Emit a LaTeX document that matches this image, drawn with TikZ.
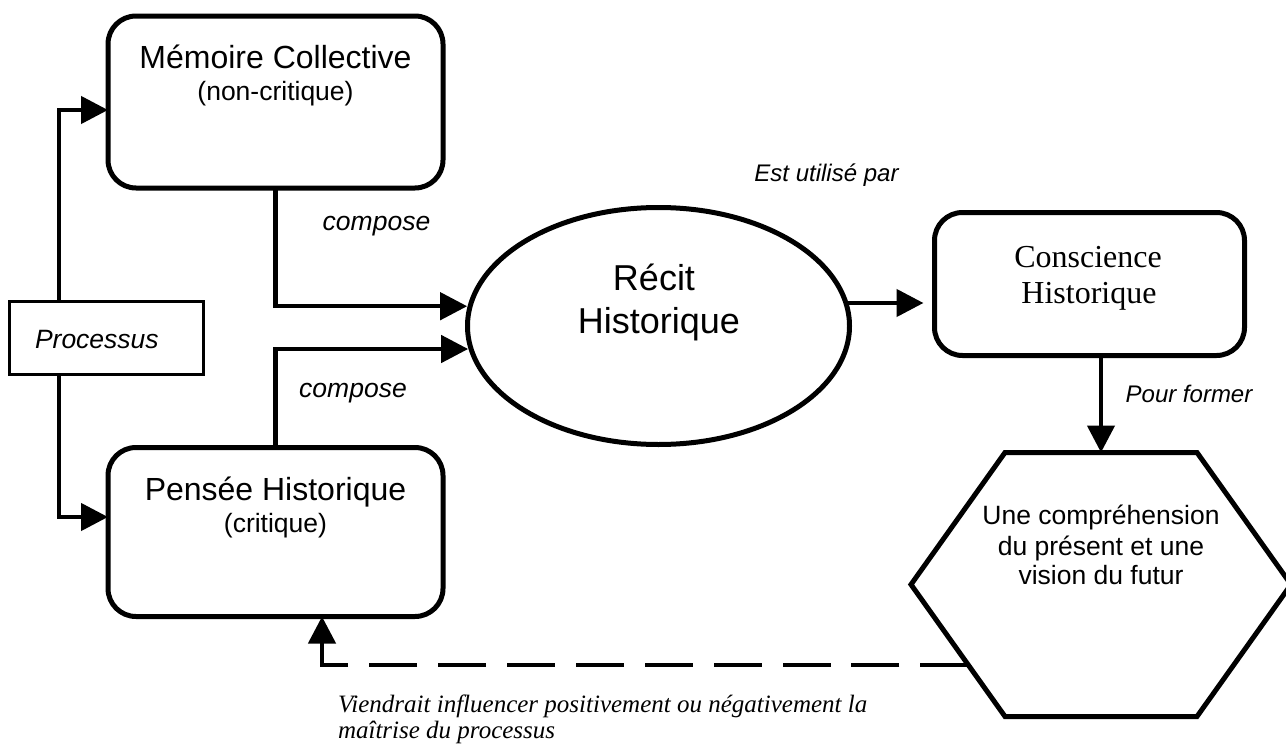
\documentclass[tikz,border=0pt]{standalone}
\usepackage{fontspec}
\setmainfont{Liberation Sans}
\newfontfamily\timesfont{Liberation Serif}
\usetikzlibrary{arrows.meta,calc,shapes.geometric}
\begin{document}
\begin{tikzpicture}[x=1pt,y=-1pt,
  boxr/.style={draw, line width=5pt, rounded corners=28pt, minimum width=335pt,
    minimum height=172pt, inner sep=0pt, outer sep=0pt},
  conn/.style={line width=4.5pt, -{Triangle[length=27pt,width=27pt]}},
  lbl/.style={anchor=base, inner sep=0pt, outer sep=0pt},
  big/.style={font=\fontsize{32}{38}\selectfont},
  mid/.style={font=\fontsize{26.5}{32}\selectfont},
  midit/.style={font=\itshape\fontsize{26.5}{32}\selectfont},
  smit/.style={font=\itshape\fontsize{24}{29}\selectfont},
]
\useasboundingbox (0,0) rectangle (1286,744);

% shapes
\node[boxr] (mem) at (275.5,102) {};
\node[boxr, minimum height=169pt] (pen) at (275.5,532) {};
\node[draw, line width=3.5pt, minimum width=194pt, minimum height=73pt,
  inner sep=0pt, outer sep=0pt] (proc) at (106.5,338) {};
\node[ellipse, draw, line width=5pt, minimum width=382pt, minimum height=237pt,
  inner sep=0pt, outer sep=0pt] (rec) at (658.5,326) {};
\node[boxr, minimum width=310pt, minimum height=143pt] (con) at (1089.5,284) {};
\node[minimum width=380pt, minimum height=264pt, inner sep=0pt, outer sep=0pt]
  (hex) at (1101,584.5) {};
\draw[line width=5pt, line join=miter]
  ([xshift=-96pt]hex.north) -- ([xshift=96pt]hex.north) -- (hex.east)
  -- ([xshift=96pt]hex.south) -- ([xshift=-96pt]hex.south) -- (hex.west) -- cycle;
\coordinate (hexd) at ($(hex.west)!0.61!([xshift=-96pt]hex.south)$);

% texts
\node[lbl, big] (memA) at (275.5,68) {Mémoire Collective};
\node[lbl, mid] (memB) at (275.5,100) {(non-critique)};
\node[lbl, big] (penA) at (275.5,500) {Pensée Historique};
\node[lbl, mid] (penB) at (275.5,532) {(critique)};
\node[lbl, midit, anchor=base west] (procT) at (35,348) {Processus};
\node[lbl, font=\fontsize{36}{42}\selectfont] (recA) at (654,290) {Récit};
\node[lbl, font=\fontsize{36}{42}\selectfont] (recB) at (659,333) {Historique};
\node[lbl, font=\timesfont\fontsize{32}{38}\selectfont] (conA) at (1088,267) {Conscience};
\node[lbl, font=\timesfont\fontsize{32}{38}\selectfont] (conB) at (1089,303) {Historique};
\node[lbl, mid] (hexA) at (1101,524) {Une compréhension};
\node[lbl, mid] (hexB) at (1101,555) {du présent et une};
\node[lbl, mid] (hexC) at (1101,584) {vision du futur};
\node[lbl, midit] (cmp1) at (376.5,230) {compose};
\node[lbl, midit] (cmp2) at (353,397) {compose};
\node[lbl, smit] (util) at (826.5,181) {Est utilisé par};
\node[lbl, smit] (form) at (1189,402) {Pour former};
\node[lbl, anchor=base west, font=\timesfont\itshape\fontsize{25}{30}\selectfont]
  (infA) at (338,712) {Viendrait influencer positivement ou négativement la};
\node[lbl, anchor=base west, font=\timesfont\itshape\fontsize{25}{30}\selectfont]
  (infB) at (338,738) {maîtrise du processus};

% connectors
\draw[conn] ([xshift=-47.5pt]proc.north) |- ([yshift=-8pt]mem.west);
\draw[conn] ([xshift=-47.5pt]proc.south) |- ([yshift=15pt]pen.west);
\draw[conn, shorten >=3pt] (mem.south) |- (rec.174.2);
\draw[conn, shorten >=3pt] (pen.north) |- (rec.187.3);
\draw[conn, shorten >=11pt] (rec.7) -- (rec.7 -| con.west);
\draw[conn] ([xshift=11.5pt]con.south) -- (hex.north);
\draw[conn, dash pattern=on 48pt off 20.9pt] (hexd) -| ([xshift=46.5pt]pen.south);
\end{tikzpicture}
\end{document}
